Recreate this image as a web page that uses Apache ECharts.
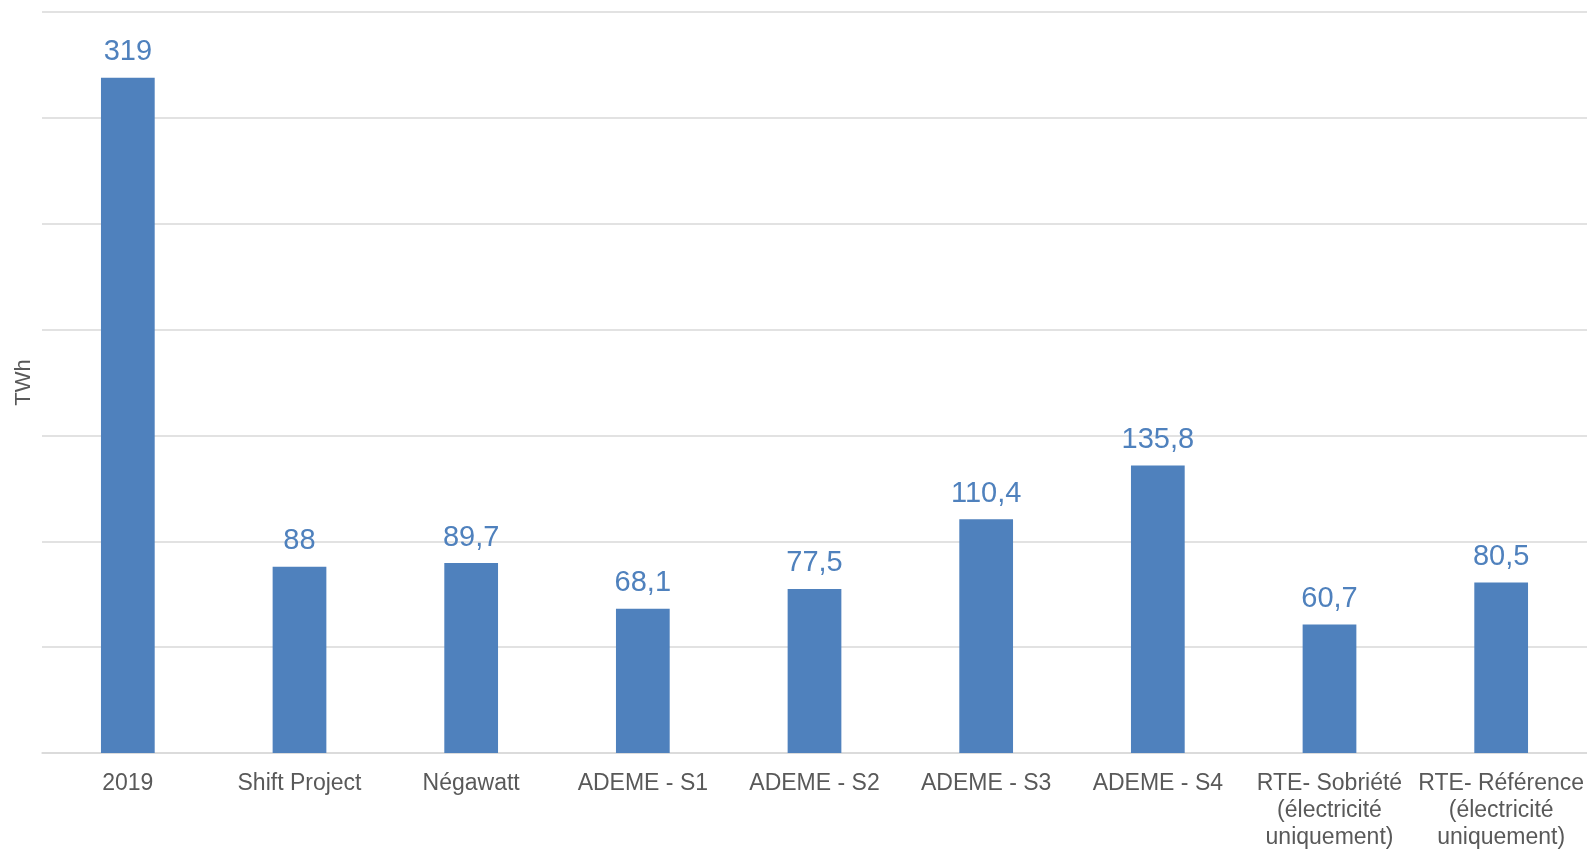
<!DOCTYPE html>
<html>
<head>
<meta charset="utf-8">
<script src="https://cdn.jsdelivr.net/npm/echarts@6/dist/echarts.min.js"></script>
<style>
  html, body { margin: 0; padding: 0; background: #ffffff; }
  #chart { width: 1587px; height: 849px; }
</style>
</head>
<body>
<div id="chart"></div>
<script>
// Scenario names (x axis) and the matching consumption in TWh
const categories = [
  '2019',
  'Shift Project',
  'Négawatt',
  'ADEME - S1',
  'ADEME - S2',
  'ADEME - S3',
  'ADEME - S4',
  'RTE- Sobriété\n(électricité\nuniquement)',
  'RTE- Référence\n(électricité\nuniquement)'
];
const values = [319, 88, 89.7, 68.1, 77.5, 110.4, 135.8, 60.7, 80.5];

const axisName = 'TWh';
const yMin = 0;
const yMax = 350;
const yStep = 50;

const fontFamily = '"Liberation Sans", Arial, sans-serif';
const barColor = '#4f81bd';
const textColor = '#595959';
const gridColor = '#d9d9d9';

const chart = echarts.init(document.getElementById('chart'), null, { renderer: 'canvas' });

chart.setOption({
  animation: false,
  backgroundColor: '#ffffff',
  grid: { left: 42, right: 0, top: 12, bottom: 96, containLabel: false, outerBoundsMode: 'none' },
  xAxis: {
    type: 'category',
    data: categories,
    axisTick: { show: false },
    axisLine: { show: true, lineStyle: { color: gridColor, width: 1.5 } },
    axisLabel: {
      color: textColor,
      fontFamily: fontFamily,
      fontSize: 23,
      lineHeight: 27,
      margin: 17,
      interval: 0
    }
  },
  yAxis: {
    type: 'value',
    min: yMin,
    max: yMax,
    interval: yStep,
    name: axisName,
    nameLocation: 'middle',
    nameGap: 7,
    nameRotate: 90,
    nameTextStyle: { color: textColor, fontFamily: fontFamily, fontSize: 22 },
    axisLabel: { show: false },
    axisTick: { show: false },
    axisLine: { show: false },
    splitLine: { show: true, lineStyle: { color: gridColor, width: 1.5 } }
  },
  series: [{
    type: 'bar',
    data: values,
    barWidth: '31.3%',
    itemStyle: { color: barColor },
    label: {
      show: true,
      position: 'top',
      distance: 11,
      color: barColor,
      fontFamily: fontFamily,
      fontSize: 29,
      formatter: (p) => String(p.value).replace('.', ',')
    }
  }]
});
</script>
</body>
</html>
